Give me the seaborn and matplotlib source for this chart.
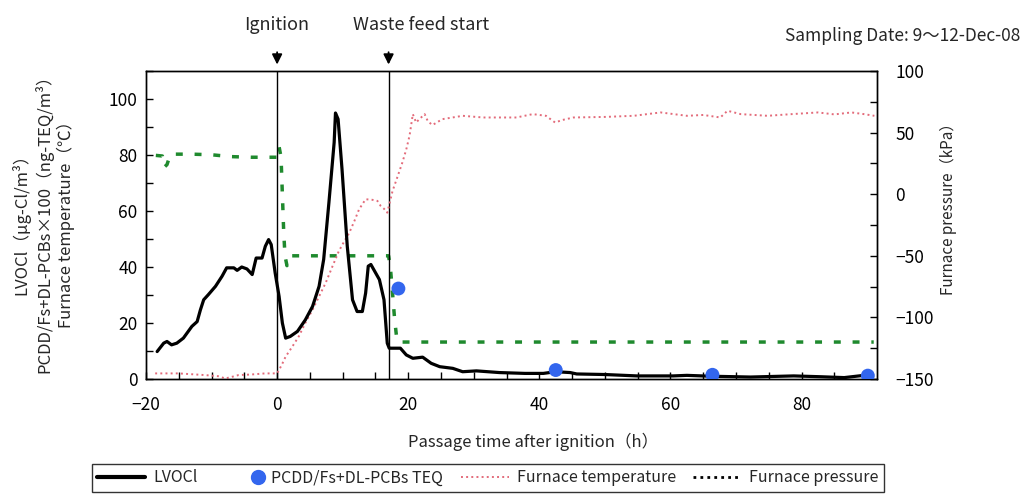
import numpy as np
import pandas as pd
import matplotlib
matplotlib.use("Agg")
import matplotlib.pyplot as plt
from matplotlib.lines import Line2D
from matplotlib.legend_handler import HandlerLine2D
from matplotlib.ticker import MultipleLocator
import seaborn as sns

sns.set_style("ticks")
plt.rcParams['font.family'] = ['Noto Sans CJK JP', 'DejaVu Sans']
plt.rcParams['axes.unicode_minus'] = True

# ---------------- data ----------------
lvocl_time = [-18.3, -17.3, -16.8, -16.1, -15.3, -14.3, -13.0, -12.2, -11.7, -11.2,
              -10.5, -9.4, -8.4, -7.7, -6.6, -6.1, -5.4, -4.6, -3.8, -3.2,
              -2.3, -1.8, -1.3, -0.9, -0.3, 0.3, 0.8, 1.3, 2.0, 3.1,
              4.3, 5.4, 6.4, 7.1, 7.9, 8.7, 8.9, 9.3, 9.9, 10.7,
              11.5, 12.2, 13.0, 13.5, 13.9, 14.3, 15.6, 16.3, 16.8, 17.1,
              18.8, 19.7, 20.7, 22.2, 23.5, 24.8, 26.8, 28.3, 30.4, 33.9,
              37.8, 40.6, 42.5, 44.7, 45.7, 50.0, 54.9, 60.4, 62.5, 66.0,
              72.2, 78.8, 83.0, 86.5, 89.5, 90.5]
lvocl_vals = [9.8, 12.8, 13.4, 12.2, 12.8, 14.6, 18.8, 20.5, 24.7, 28.3,
              30.1, 33.1, 36.7, 39.7, 39.7, 38.8, 40.0, 39.3, 37.3, 43.2,
              43.2, 47.4, 49.8, 48.0, 37.9, 29.5, 20.0, 14.6, 15.2, 17.0,
              21.1, 25.9, 33.1, 42.7, 63.0, 84.5, 95.0, 92.8, 74.9, 47.4,
              28.3, 24.1, 24.1, 30.7, 40.3, 40.9, 35.5, 28.3, 12.8, 11.0,
              11.0, 8.6, 7.4, 7.8, 5.6, 4.4, 3.8, 2.6, 2.9, 2.3,
              2.0, 2.0, 2.6, 2.3, 1.8, 1.6, 1.1, 1.1, 1.3, 1.0,
              0.7, 1.1, 0.8, 0.5, 1.3, 0.9]

teq_time = [18.5, 42.5, 66.4, 90.1]
teq_vals = [32.3, 3.2, 1.5, 1.2]

temp_time = [-18.6, -15.0, -11.0, -9.0, -7.9, -6.5, -5.9, -4.0, -1.8, 0.0,
             0.7, 1.3, 2.3, 3.3, 4.3, 5.4, 6.4, 7.4, 8.4, 9.4,
             10.2, 11.0, 11.8, 12.5, 13.5, 14.5, 15.3, 15.8, 16.3, 16.8,
             17.6, 18.4, 19.1, 19.7, 20.2, 20.7, 21.2, 21.7, 22.5, 23.0,
             23.7, 25.2, 28.3, 31.4, 33.9, 36.5, 39.0, 41.0, 42.4, 43.5,
             45.2, 50.0, 54.4, 58.5, 62.5, 65.0, 67.6, 68.7, 70.7, 74.8,
             78.5, 82.5, 85.0, 87.6, 89.5, 91.1]
temp_vals = [2.0, 2.0, 1.4, 1.0, 0.2, 1.0, 1.4, 1.6, 2.0, 2.0,
             5.0, 8.0, 11.5, 15.2, 20.0, 24.7, 29.5, 34.3, 40.0, 45.6,
             49.0, 52.2, 56.5, 60.6, 64.2, 64.0, 63.6, 61.8, 60.8, 59.4,
             67.1, 72.5, 77.3, 82.0, 86.9, 94.6, 91.6, 92.8, 94.6, 92.0,
             90.7, 92.8, 94.0, 93.4, 93.4, 93.4, 94.6, 94.0, 91.6, 92.5,
             93.4, 93.6, 94.0, 95.2, 94.0, 94.3, 93.4, 95.8, 94.6, 94.0,
             94.6, 95.2, 94.5, 95.2, 94.6, 94.0]

press_time = [-18.5, -17.5, -17.2, -16.8, -16.3, -16.0, -13.0, -10.0, -7.0, -4.0,
              -2.0, 0.0, 0.3, 0.6, 0.8, 1.0, 1.2, 1.5, 2.0, 5.0,
              8.0, 10.0, 12.0, 15.0, 17.0, 17.3, 17.6, 17.9, 18.2, 18.5,
              25.0, 40.0, 60.0, 80.0, 91.0]
press_vals = [31.5, 31.0, 22.0, 24.0, 32.0, 32.5, 32.5, 32.0, 30.5, 30.0,
              30.0, 30.0, 38.5, 30.0, 0.0, -30.0, -50.0, -58.0, -50.0, -50.0,
              -50.0, -50.0, -50.0, -50.0, -50.0, -61.0, -80.0, -100.0, -115.0, -120.0,
              -120.0, -120.0, -120.0, -120.0, -120.0]

series_names = ["LVOCl", "PCDD/Fs+DL-PCBs TEQ", "Furnace temperature", "Furnace pressure"]
x_ticks = [-20, 0, 20, 40, 60, 80]
left_ticks = [0, 20, 40, 60, 80, 100]
right_ticks = [-150, -100, -50, 0, 50, 100]

# ---------------- styles ----------------
c_lv = "black"
c_teq = "#3366ee"
c_temp = "#e36b7a"
c_press = "#1f8a2e"

fig = plt.figure(figsize=(10.29, 4.95), dpi=100)
ax = fig.add_axes([146/1029, 1-379/495, (877-146)/1029, (379-71)/495])
ax2 = ax.twinx()

df_lv = pd.DataFrame({"t": lvocl_time, "v": lvocl_vals})
df_temp = pd.DataFrame({"t": temp_time, "v": temp_vals})
df_press = pd.DataFrame({"t": press_time, "v": press_vals})
df_teq = pd.DataFrame({"t": teq_time, "v": teq_vals})

sns.lineplot(data=df_temp, x="t", y="v", ax=ax, color=c_temp, lw=1.4,
             linestyle=":", estimator=None, sort=False, legend=False)
sns.lineplot(data=df_lv, x="t", y="v", ax=ax, color=c_lv, lw=2.3,
             estimator=None, sort=False, legend=False)
sns.lineplot(data=df_press, x="t", y="v", ax=ax2, color=c_press, lw=2.5,
             linestyle=(0, (2.0, 3.4)), estimator=None, sort=False, legend=False)
sns.scatterplot(data=df_teq, x="t", y="v", ax=ax, color=c_teq, s=100,
                edgecolor="none", zorder=6, legend=False)
ax.set_zorder(ax2.get_zorder() + 1)
ax.patch.set_visible(False)

ax.axvline(0, color="black", lw=1.0, zorder=1)
ax.axvline(17, color="black", lw=1.0, zorder=1)

ax.set_xlim(-20, 91.5)
ax.set_ylim(0, 110)
ax2.set_ylim(-150, 100)
ax.set_xticks(x_ticks)
ax.set_yticks(left_ticks)
ax2.set_yticks(right_ticks)
ax.xaxis.set_minor_locator(MultipleLocator(5))
ax.yaxis.set_minor_locator(MultipleLocator(10))
ax2.yaxis.set_minor_locator(MultipleLocator(25))

for a in (ax, ax2):
    for s in a.spines.values():
        s.set_visible(True)
        s.set_color("black")
        s.set_linewidth(1.0)
ax.tick_params(axis="both", which="both", direction="in", length=5, width=1,
               labelsize=12.5, colors="black", top=False, right=False)
ax.tick_params(axis="x", pad=12)
ax.tick_params(axis="y", pad=6)
ax2.tick_params(axis="y", which="both", direction="in", length=5, width=1,
                labelsize=12.5, pad=13, colors="black")

ax.set_xlabel("Passage time after ignition（h）", fontsize=12, va="center")
ax.xaxis.set_label_coords(0.529, -0.204)
ax.set_ylabel("")
ax2.set_ylabel("")

fig.text(43/1029, 1-220/495,
         "LVOCl（μg-Cl/m³）\nPCDD/Fs+DL-PCBs×100（ng-TEQ/m³）\nFurnace temperature（℃）",
         rotation=90, ha="center", va="center", multialignment="center",
         fontsize=12, linespacing=1.25)
fig.text(948/1029, 1-205/495, "Furnace pressure（kPa）", rotation=90,
         ha="center", va="center", fontsize=11)

# event annotations
for xv, label, tx in [(0, "Ignition", 0), (17, "Waste feed start", 22.0)]:
    ax.annotate("", xy=(xv, 1.012), xycoords=("data", "axes fraction"),
                xytext=(xv, 1.07), textcoords=("data", "axes fraction"),
                arrowprops=dict(arrowstyle="-|>,head_length=0.6,head_width=0.3",
                                color="black", lw=1.3))
    ax.text(tx, 1.15, label, transform=ax.get_xaxis_transform(),
            ha="center", va="center", fontsize=13)

fig.text(1020/1029, 1-36/495, "Sampling Date: 9～12-Dec-08", ha="right",
         va="center", fontsize=12.5)


class MarkerRight(HandlerLine2D):
    def create_artists(self, legend, orig_handle, xdescent, ydescent,
                       width, height, fontsize, trans):
        arts = super().create_artists(legend, orig_handle, xdescent, ydescent,
                                      width, height, fontsize, trans)
        for a in arts:
            xd = np.asarray(a.get_xdata(), dtype=float)
            a.set_xdata(np.full_like(xd, width - 0.35 * fontsize))
        return arts


handles = [
    Line2D([], [], color=c_lv, lw=3),
    Line2D([], [], color=c_teq, marker="o", ls="none", markersize=10),
    Line2D([], [], color=c_temp, lw=1.4, ls=":"),
    Line2D([], [], color="black", lw=2, ls=(0, (1, 1.5))),
]
leg = fig.legend(handles, series_names, loc="center", bbox_to_anchor=(488/1029, 1-478/495),
                 ncol=4, frameon=True, fancybox=False, edgecolor="#333333",
                 framealpha=1, fontsize=11.5, handlelength=3.0, handletextpad=0.5,
                 columnspacing=1.1, borderpad=0.35,
                 handler_map={handles[1]: MarkerRight()})
leg.get_frame().set_linewidth(1.0)

fig.savefig("out.png", dpi=100)
